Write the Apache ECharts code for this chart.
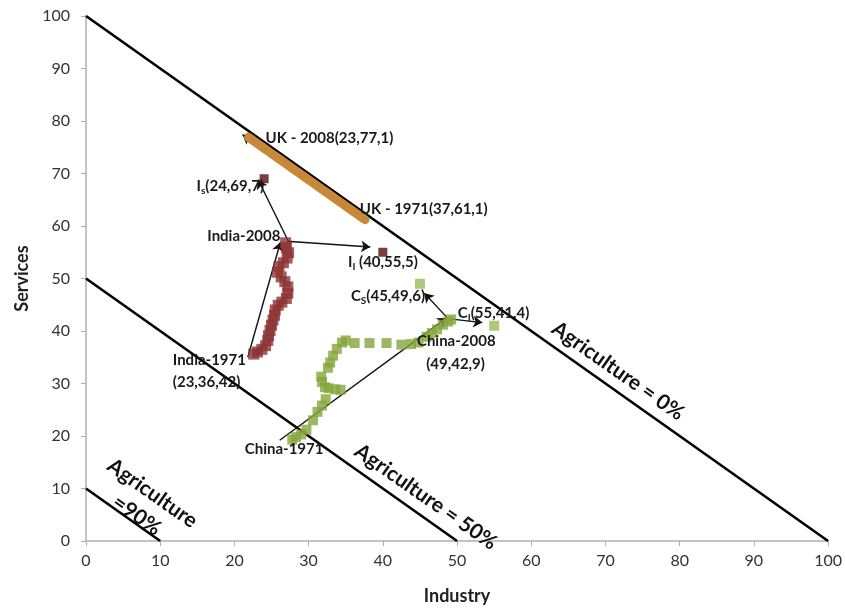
<!DOCTYPE html>
<html>
<head>
<meta charset="utf-8">
<script src="https://cdn.jsdelivr.net/npm/echarts@6/dist/echarts.min.js"></script>
<style>
  html, body { margin: 0; padding: 0; background: #fff; }
  #chart { width: 845px; height: 613px; }
</style>
</head>
<body>
<div id="chart"></div>
<script>
// sector shares: [industry %, services %]
var indiaPts = [
    [22.6, 35.6], [23.1, 36.0], [23.7, 36.5], [24.2, 37.2], [24.5, 38.2], [24.6, 39.1],
    [24.8, 40.1], [25.0, 41.1], [25.2, 42.1], [25.4, 43.0], [25.5, 44.0], [25.9, 44.9],
    [26.4, 45.5], [27.0, 46.2], [27.2, 47.2], [27.2, 48.4], [26.8, 49.4], [26.3, 50.3],
    [25.8, 51.2], [26.0, 52.3], [26.6, 53.0], [27.1, 53.9], [27.3, 54.9], [27.0, 55.9],
    [26.9, 56.8]
];
var chinaPts = [
    [27.8, 19.3], [28.3, 19.8], [29.0, 20.3], [29.7, 21.2], [30.6, 23.0], [31.2, 24.6],
    [31.8, 25.8], [32.3, 27.0], [32.2, 29.3], [31.8, 30.3], [31.7, 31.3], [32.7, 29.1],
    [33.6, 28.9], [34.3, 28.8], [32.6, 33.0], [32.9, 34.0], [33.3, 35.3], [33.8, 36.6],
    [34.5, 37.8], [35.0, 38.2], [36.2, 37.7], [38.2, 37.7], [40.5, 37.7], [42.5, 37.4],
    [43.8, 37.5], [44.8, 37.8], [45.9, 38.9], [46.6, 39.6], [47.3, 40.3], [48.1, 41.2],
    [48.8, 41.8], [49.2, 42.2]
];
var ukPts = [
    [37.6, 61.2], [37.1, 61.7], [36.5, 62.3], [35.9, 62.9], [35.2, 63.6], [34.6, 64.2],
    [34.0, 64.8], [33.3, 65.5], [32.6, 66.2], [32.0, 66.8], [31.3, 67.5], [30.6, 68.2],
    [30.0, 68.8], [29.3, 69.5], [28.6, 70.2], [28.0, 70.8], [27.3, 71.5], [26.6, 72.2],
    [25.9, 72.9], [25.2, 73.6], [24.5, 74.3], [23.8, 75.0], [23.1, 75.7], [22.4, 76.4],
    [21.9, 76.9]
];
var indiaTargets = [[24, 69], [40, 55]];
var chinaTargets = [[45, 49], [55, 41]];

// agriculture = 0%, 50%, 90% boundaries
var agriLines = [
    [[0, 100], [100, 0]],
    [[0, 50], [50, 0]],
    [[0, 10], [10, 0]]
];

var arrows = [
    [[37.0, 61.6], [21.1, 77.4]],
    [[21.8, 35.0], [26.2, 56.9]],
    [[27.3, 57.0], [23.2, 68.8]],
    [[27.1, 57.1], [38.3, 56.0]],
    [[26.1, 19.2], [48.6, 42.5]],
    [[48.7, 42.5], [45.6, 47.2]],
    [[49.0, 42.3], [53.4, 41.6]]
];

// [x, y, text, align]
var notes = [
    [24.2, 76.8, '{b|UK - 2008(23,77,1)}', 'left'],
    [36.9, 63.2, '{b|UK - 1971(37,61,1)}', 'left'],
    [24.0, 67.6, '{b|I}{s|s}{b|(24,69,7)}', 'right'],
    [26.2, 58.1, '{b|India-2008}', 'right'],
    [35.3, 53.1, '{b|I}{s|I}{b| (40,55,5)}', 'left'],
    [35.7, 46.7, '{b|C}{s|S}{b|(45,49,6)}', 'left'],
    [50.1, 43.4, '{b|C}{s|I}{b|(55,41,4)}', 'left'],
    [44.6, 38.1, '{b|China-2008}', 'left'],
    [49.8, 33.7, '{b|(49,42,9)}', 'center'],
    [11.7, 34.5, '{b|India-1971}', 'left'],
    [11.7, 30.3, '{b|(23,36,42)}', 'left'],
    [21.4, 17.5, '{b|China-1971}', 'left']
];
var agriNotes = [
    [71.7, 32.4, 'Agriculture = 0%'],
    [45.8, 8.4, 'Agriculture = 50%'],
    [7.9, 7.0, 'Agriculture\n=90%']
];

var myChart = echarts.init(document.getElementById('chart'));

var lineSeries = agriLines.map(function (seg) {
    return {
        type: 'line',
        data: seg,
        symbol: 'none',
        silent: true,
        z: 3,
        lineStyle: { color: '#000', width: 2.6 }
    };
});

var option = {
    animation: false,
    textStyle: { fontFamily: 'Lato' },
    grid: { left: 86, right: 16, top: 16, bottom: 72 },
    xAxis: {
        type: 'value',
        min: 0,
        max: 100,
        interval: 10,
        name: 'Industry',
        nameLocation: 'middle',
        nameGap: 46,
        nameTextStyle: { fontSize: 18, fontWeight: 'bold', color: '#222' },
        axisLine: { show: true, lineStyle: { color: '#b0b0b0', width: 1.5 } },
        axisTick: { show: true, length: 5, lineStyle: { color: '#b0b0b0' } },
        splitLine: { show: false },
        axisLabel: { fontSize: 16, color: '#333', margin: 12 }
    },
    yAxis: {
        type: 'value',
        min: 0,
        max: 100,
        interval: 10,
        name: 'Services',
        nameLocation: 'middle',
        nameGap: 54,
        nameTextStyle: { fontSize: 18, fontWeight: 'bold', color: '#222' },
        axisLine: { show: true, lineStyle: { color: '#b0b0b0', width: 1.5 } },
        axisTick: { show: true, length: 5, lineStyle: { color: '#b0b0b0' } },
        splitLine: { show: false },
        axisLabel: { fontSize: 16, color: '#333', margin: 16 }
    },
    series: lineSeries.concat([
        {
            type: 'lines',
            coordinateSystem: 'cartesian2d',
            z: 4,
            symbol: ['none', 'arrow'],
            symbolSize: 9,
            lineStyle: { color: '#111', width: 1.4, opacity: 1 },
            data: arrows.map(function (a) { return { coords: a }; })
        },
        {
            name: 'UK',
            type: 'line',
            z: 5,
            data: ukPts,
            symbol: 'none',
            lineStyle: { color: '#c8883a', width: 9, cap: 'round' }
        },
        {
            name: 'India',
            type: 'scatter',
            z: 5,
            data: indiaPts,
            symbol: 'rect',
            symbolSize: 11,
            itemStyle: { color: '#8c3232' }
        },
        {
            name: 'India targets',
            type: 'scatter',
            z: 5,
            data: indiaTargets,
            symbol: 'rect',
            symbolSize: 9,
            itemStyle: { color: '#5a0c0c' }
        },
        {
            name: 'China',
            type: 'scatter',
            z: 5,
            data: chinaPts,
            symbol: 'rect',
            symbolSize: 10,
            itemStyle: { color: '#84a63c' }
        },
        {
            name: 'China targets',
            type: 'scatter',
            z: 5,
            data: chinaTargets,
            symbol: 'rect',
            symbolSize: 10,
            itemStyle: { color: '#9bbb59' }
        },
        {
            type: 'scatter',
            z: 6,
            symbolSize: 1,
            itemStyle: { color: 'rgba(0,0,0,0)' },
            silent: true,
            data: notes.map(function (n) {
                return {
                    value: [n[0], n[1]],
                    label: {
                        show: true,
                        position: 'inside',
                        align: n[3],
                        verticalAlign: 'middle',
                        opacity: 1,
                        textBorderWidth: 0,
                        formatter: n[2],
                        rich: {
                            b: { fontSize: 15, fontWeight: 'bold', color: '#1a1a1a', fontFamily: 'Lato' },
                            s: { fontSize: 10, fontWeight: 'bold', color: '#1a1a1a', fontFamily: 'Lato', padding: [9, 0, 0, 0] }
                        }
                    }
                };
            })
        },
        {
            type: 'scatter',
            z: 6,
            symbolSize: 1,
            itemStyle: { color: 'rgba(0,0,0,0)' },
            silent: true,
            data: agriNotes.map(function (n) {
                return {
                    value: [n[0], n[1]],
                    label: {
                        show: true,
                        position: 'inside',
                        align: 'center',
                        verticalAlign: 'middle',
                        rotate: -35,
                        opacity: 1,
                        textBorderWidth: 0,
                        formatter: n[2],
                        fontSize: 21,
                        lineHeight: 27,
                        fontWeight: 'bold',
                        color: '#111',
                        fontFamily: 'Lato'
                    }
                };
            })
        }
    ])
};

myChart.setOption(option);
window.addEventListener('resize', function () {
    myChart.resize();
});
</script>
</body>
</html>
